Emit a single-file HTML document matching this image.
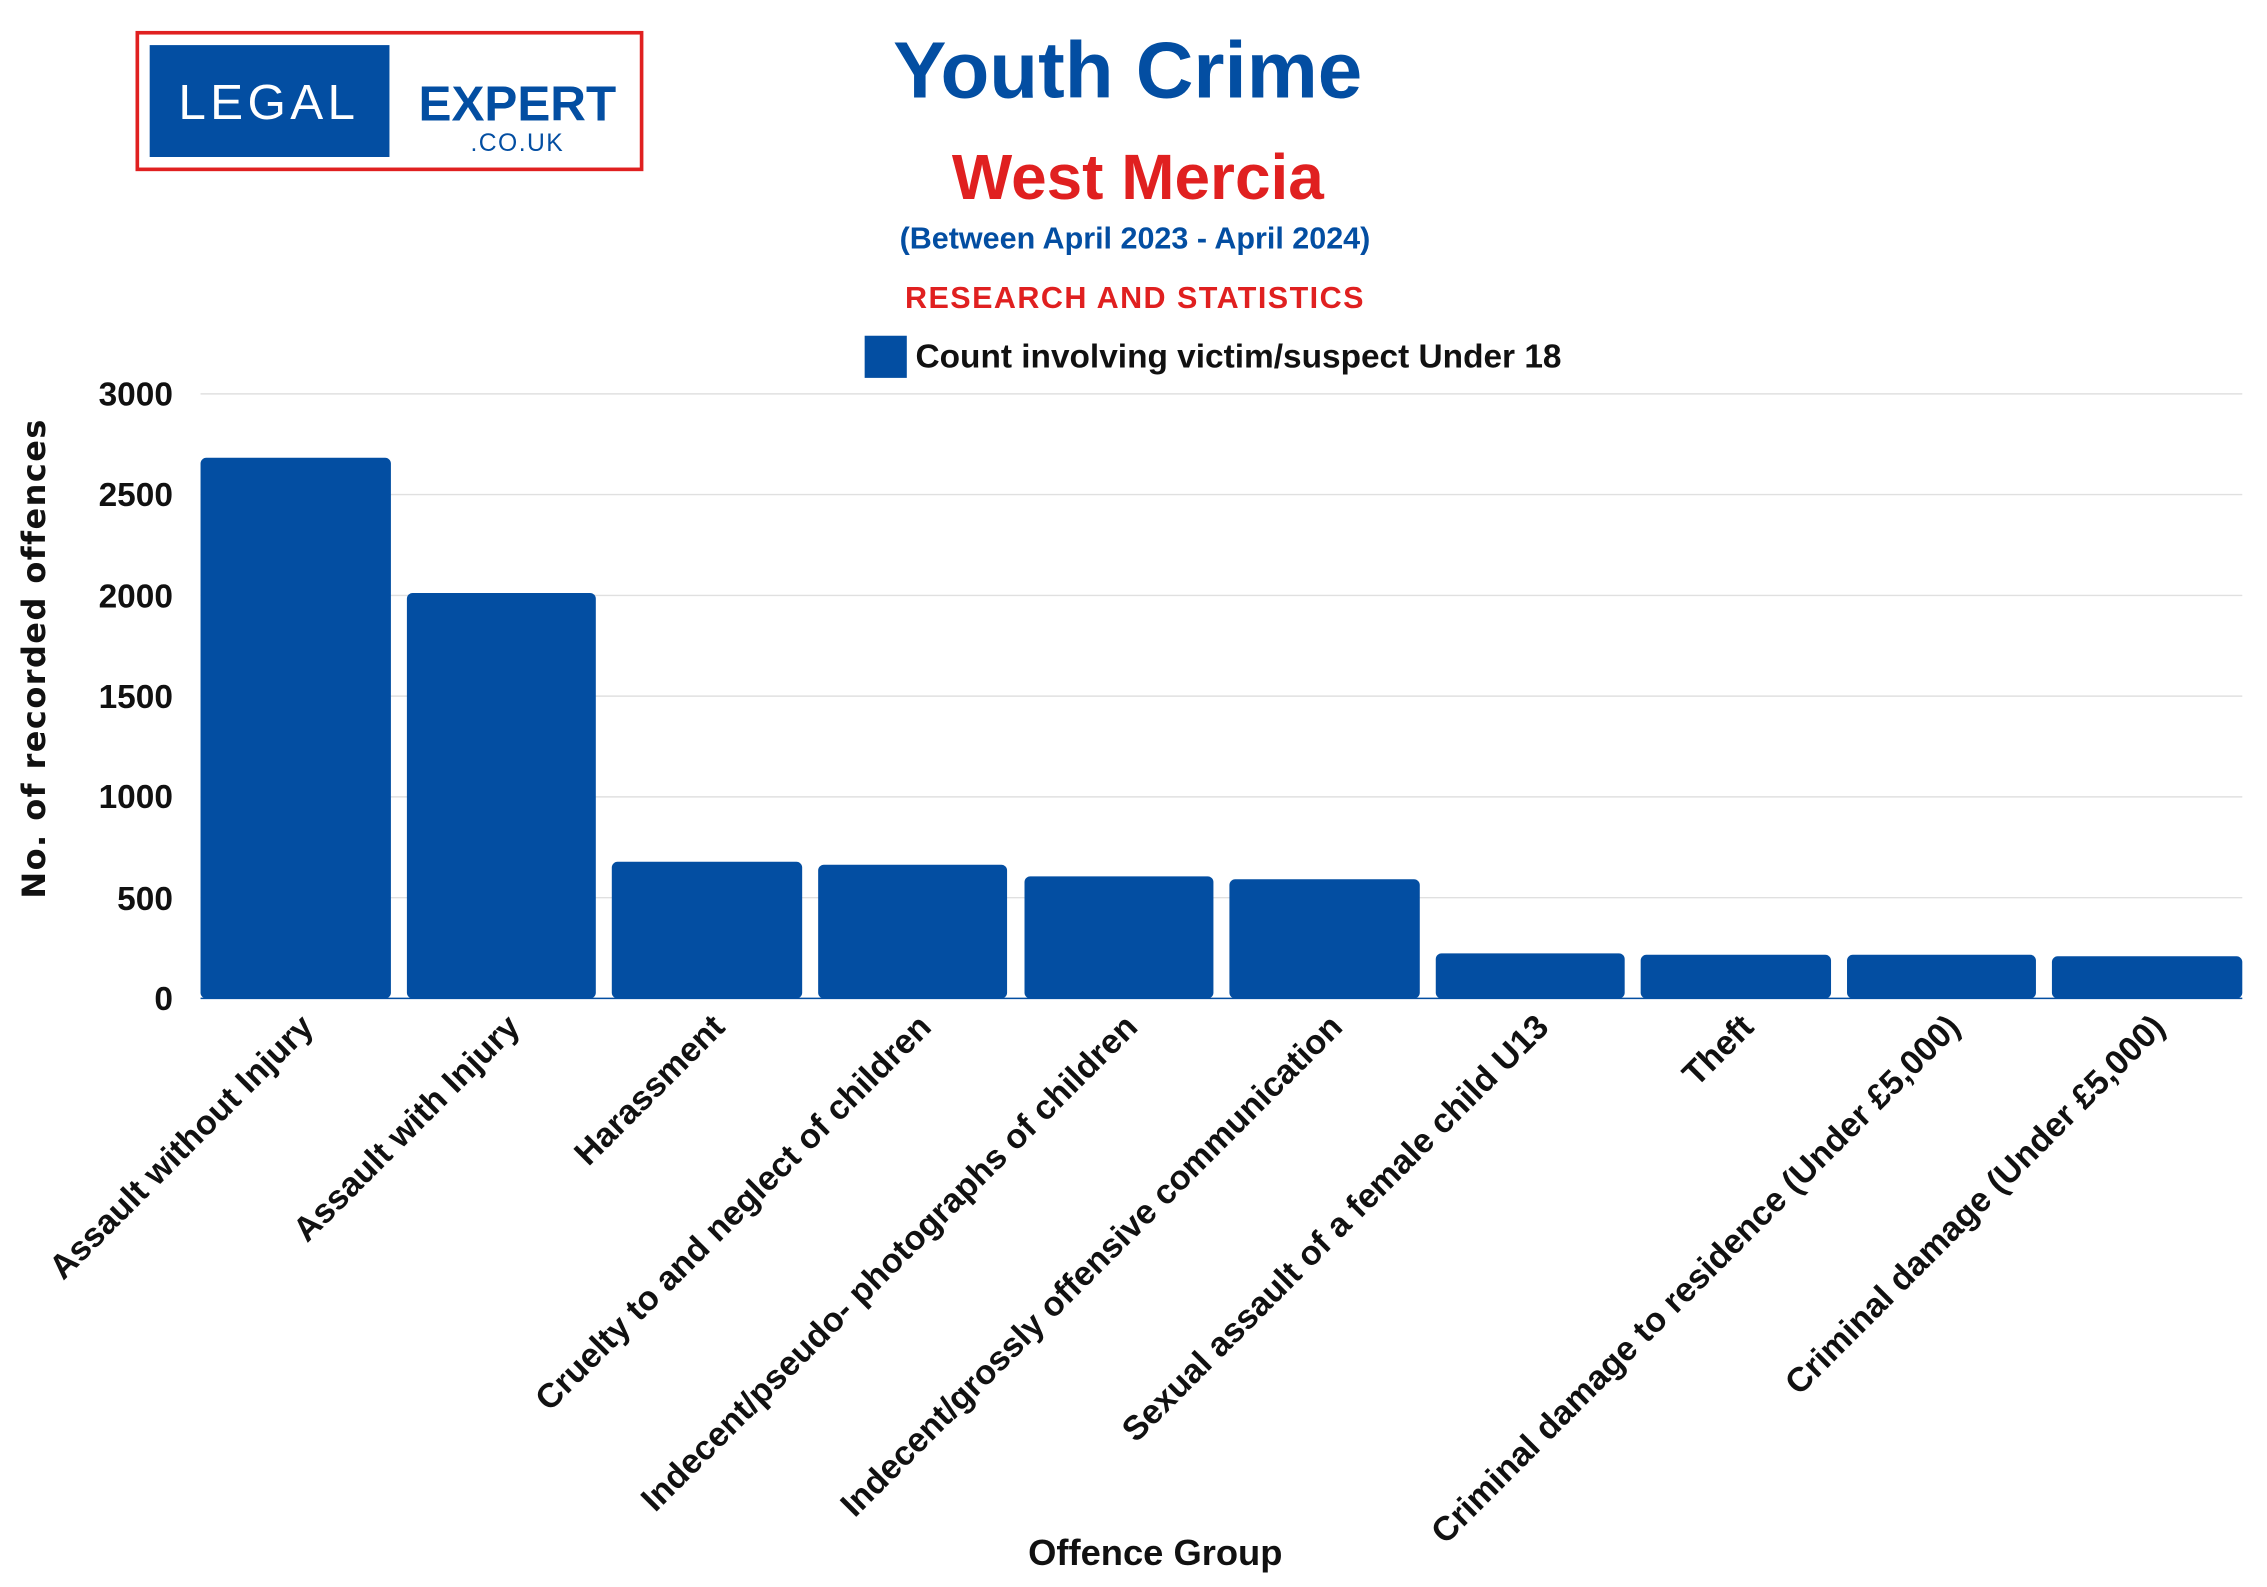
<!DOCTYPE html>
<html><head><meta charset="utf-8"><style>html,body{margin:0;padding:0;background:#fff}svg{display:block}</style></head>
<body>
<svg width="2267" height="1587" viewBox="0 0 1560 1092" xmlns="http://www.w3.org/2000/svg" font-family="Liberation Sans, sans-serif">
<rect width="1560" height="1092" fill="#fff"/>
<!-- logo -->
<rect x="94.5" y="22.5" width="347" height="94" fill="#fff" stroke="#e02020" stroke-width="2.5"/>
<rect x="103" y="31" width="165" height="77" fill="#034ea2"/>
<text x="185" y="82" text-anchor="middle" fill="#fff" font-size="34" letter-spacing="3">LEGAL</text>
<text x="356" y="83" text-anchor="middle" fill="#034ea2" font-size="34" font-weight="bold">EXPERT</text>
<text x="356" y="104" text-anchor="middle" fill="#034ea2" font-size="17" letter-spacing="1">.CO.UK</text>
<!-- titles -->
<text x="776" y="67" text-anchor="middle" fill="#034ea2" font-size="55" font-weight="bold">Youth Crime</text>
<text x="783" y="137" text-anchor="middle" fill="#e02020" font-size="44" font-weight="bold">West Mercia</text>
<text x="781" y="171" text-anchor="middle" fill="#034ea2" font-size="21" font-weight="bold">(Between April 2023 - April 2024)</text>
<text x="781" y="212" text-anchor="middle" fill="#e02020" font-size="21" font-weight="bold" letter-spacing="1">RESEARCH AND STATISTICS</text>
<rect x="595" y="231" width="29" height="29" fill="#034ea2"/>
<text x="630" y="253" fill="#111" font-size="23" font-weight="bold">Count involving victim/suspect Under 18</text>
<!-- grid -->
<g stroke="#e0e0e0" stroke-width="1">
<line x1="138" x2="1543" y1="271" y2="271"/><line x1="138" x2="1543" y1="340.3" y2="340.3"/>
<line x1="138" x2="1543" y1="409.7" y2="409.7"/><line x1="138" x2="1543" y1="479" y2="479"/>
<line x1="138" x2="1543" y1="548.3" y2="548.3"/><line x1="138" x2="1543" y1="617.7" y2="617.7"/>
</g>
<g font-size="23" font-weight="bold" fill="#111" text-anchor="end">
<text x="119" y="279">3000</text><text x="119" y="348">2500</text><text x="119" y="418">2000</text>
<text x="119" y="487">1500</text><text x="119" y="556">1000</text><text x="119" y="626">500</text><text x="119" y="695">0</text>
</g>
<text transform="translate(31,453) rotate(-90)" text-anchor="middle" font-family="DejaVu Sans, sans-serif" font-size="22" font-weight="bold" fill="#111" letter-spacing="1">No. of recorded offences</text>
<!-- bars -->
<g fill="#034ea2">
<rect x="138" y="315" width="131" height="372" rx="4"/>
<rect x="280" y="408" width="130" height="279" rx="4"/>
<rect x="421" y="593" width="131" height="94" rx="4"/>
<rect x="563" y="595" width="130" height="92" rx="4"/>
<rect x="705" y="603" width="130" height="84" rx="4"/>
<rect x="846" y="605" width="131" height="82" rx="4"/>
<rect x="988" y="656" width="130" height="31" rx="4"/>
<rect x="1129" y="657" width="131" height="30" rx="4"/>
<rect x="1271" y="657" width="130" height="30" rx="4"/>
<rect x="1412" y="658" width="131" height="29" rx="4"/>
</g>
<line x1="138" x2="1543" y1="687" y2="687" stroke="#034ea2" stroke-width="1"/>
<!-- x labels -->
<g font-size="23.5" font-weight="bold" fill="#111" text-anchor="end">
<text transform="translate(217,708) rotate(-45)">Assault without Injury</text>
<text transform="translate(359,708) rotate(-45)">Assault with Injury</text>
<text transform="translate(500,708) rotate(-45)">Harassment</text>
<text transform="translate(642,708) rotate(-45)">Cruelty to and neglect of children</text>
<text transform="translate(784,708) rotate(-45)">Indecent/pseudo- photographs of children</text>
<text transform="translate(925,708) rotate(-45)">Indecent/grossly offensive communication</text>
<text transform="translate(1067,708) rotate(-45)">Sexual assault of a female child U13</text>
<text transform="translate(1208,708) rotate(-45)">Theft</text>
<text transform="translate(1350,708) rotate(-45)">Criminal damage to residence (Under £5,000)</text>
<text transform="translate(1491,708) rotate(-45)">Criminal damage (Under £5,000)</text>
</g>
<text x="795" y="1077" text-anchor="middle" font-size="25" font-weight="bold" fill="#111">Offence Group</text>
</svg>
</body></html>
